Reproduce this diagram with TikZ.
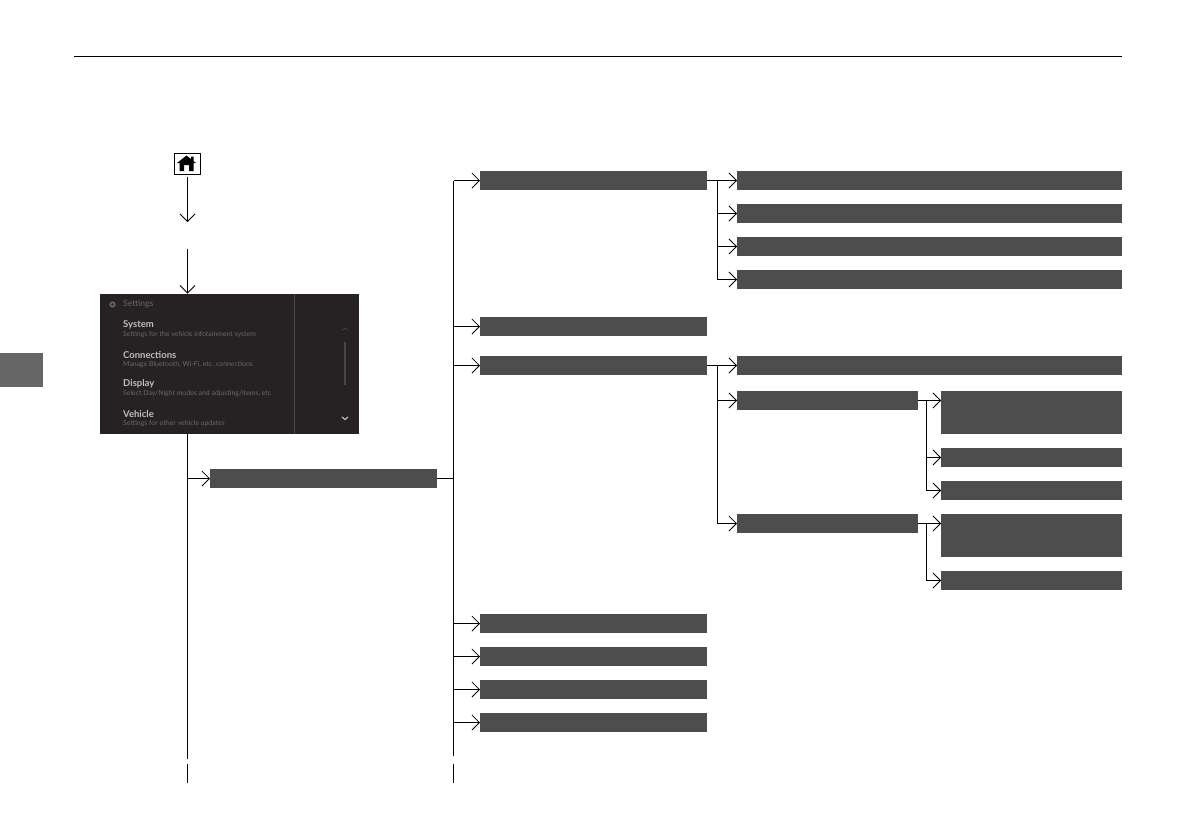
\documentclass[tikz,border=0pt]{standalone}
\usepackage{xcolor}
\usepackage{fontspec}
\setsansfont{Lato}
\definecolor{barfill}{RGB}{77, 77, 77}
\definecolor{tabfill}{RGB}{102, 102, 102}
\definecolor{screenfill}{RGB}{38, 34, 36}
\definecolor{screenline}{RGB}{72, 70, 71}
\definecolor{screentitle}{RGB}{190, 190, 190}
\definecolor{screensub}{RGB}{105, 103, 104}
\usetikzlibrary{arrows.meta, calc}
\tikzset{
    barbox/.style={fill=barfill, anchor=north west, inner sep=0pt, outer sep=0pt, minimum height=19pt},
    barmain/.style={barbox, minimum width=227pt},
    barlong/.style={barbox, minimum width=385pt},
    barshort/.style={barbox, minimum width=181pt},
    bartall/.style={barshort, minimum height=43pt},
    flowline/.style={line width=1pt, -{Straight Barb[length=7.5pt,width=15pt,line width=0.8pt]}},
    plainline/.style={line width=1pt},
    screentext/.style={anchor=west, inner sep=0pt, font=\sffamily\bfseries\fontsize{9.5}{10}\selectfont, text=screentitle},
    screennote/.style={anchor=west, inner sep=0pt, font=\sffamily\fontsize{6.9}{7}\selectfont, text=screensub}
}
\begin{document}
\begin{tikzpicture}[x=1pt, y=-1pt]
    \useasboundingbox (0,0) rectangle (1191,839);

    % Page furniture
    \fill[tabfill] (0,353) rectangle (42.5,387);
    \draw[line width=1pt] (74,56) -- (1122,56);

    % Home button
    \node[draw, line width=1pt, minimum width=26pt, minimum height=21pt, inner sep=0pt, anchor=north west] (home) at (174,153) {};
    \fill (177,163) -- (186.5,155.5) -- (191,159) -- (191,156.5) -- (193.5,156.5) -- (193.5,161) -- (196,163) -- (193.5,163)
        -- (193.5,171) -- (189,171) -- (189,165) -- (184,165) -- (184,171) -- (179.5,171) -- (179.5,163) -- cycle;

    % Screen
    \node[fill=screenfill, anchor=north west, inner sep=0pt, outer sep=0pt, minimum width=259pt, minimum height=140.5pt] (screen) at (100,293.5) {};
    \draw[screenline] (294,293.5) -- (294,433.5);
    \draw[screensub, line width=1.6pt] (112.5,304.5) circle (2.2pt);
    \node[screennote, font=\sffamily\fontsize{8.6}{9}\selectfont] (settings) at (123,304.5) {Settings};
    \foreach \y/\title/\note in {325/System/Settings for the vehicle infotainment system,
        354.5/Connections/{Manage Bluetooth, Wi-Fi, etc. connections},
        384/Display/{Select Day/Night modes and adjusting/items, etc},
        413.5/Vehicle/Settings for other vehicle updates} {
        \node[screentext] at (123,\y) {\title};
        \node[screennote] at (123,\y+10) {\note};
    }
    % Scroll bar
    \draw[screenline, line width=1.4pt] (345,342) -- (345,385);
    \draw[screenline, line width=0.8pt] (342,330) -- (345,328.5) -- (348,330);
    \draw[screentitle, line width=1.2pt] (342,417) -- (345,419.5) -- (348,417);

    % Main column
    \node[barmain] (mid) at (210,469) {};
    \node[barmain] (sound) at (480,171) {};
    \node[barmain] (clock) at (480,317) {};
    \node[barmain] (devices) at (480,356) {};
    \node[barmain] (rowa) at (480,614) {};
    \node[barmain] (rowb) at (480,647) {};
    \node[barmain] (rowc) at (480,680) {};
    \node[barmain] (rowd) at (480,713) {};

    % Top group
    \node[barlong] (topa) at (737,171) {};
    \node[barlong] (topb) at (737,204) {};
    \node[barlong] (topc) at (737,237) {};
    \node[barlong] (topd) at (737,270) {};

    % Lower group
    \node[barlong] (lowa) at (737,356) {};
    \node[barshort] (lowb) at (737,391) {};
    \node[barshort] (lowc) at (737,514) {};
    \node[bartall] (suba) at (941,391) {};
    \node[barshort] (subb) at (941,448) {};
    \node[barshort] (subc) at (941,481) {};
    \node[bartall] (subd) at (941,514) {};
    \node[barshort] (sube) at (941,571) {};

    % Left trunk
    \coordinate (homefoot) at (187.5,177);
    \coordinate (homehead) at (187.5,222);
    \coordinate (gaptop) at (187.5,249);
    \coordinate (trunkend) at (187.5,758.5);
    \coordinate (tickatop) at (187.5,764);
    \coordinate (tickaend) at (187.5,783);
    \draw[flowline] (homefoot) -- (homehead);
    \draw[flowline] (gaptop) -- (gaptop |- screen.north);
    \draw[plainline] (screen.south -| trunkend) -- (trunkend);
    \draw[plainline] (tickatop) -- (tickaend);
    \draw[flowline] (mid.west -| trunkend) -- (mid.west);

    % Second trunk
    \coordinate (trunktop) at (453.5,180.5);
    \coordinate (trunkbot) at (453.5,755.5);
    \coordinate (tickbtop) at (453.5,764);
    \coordinate (tickbend) at (453.5,783);
    \draw[plainline] (mid.east) -- (mid.east -| trunktop);
    \draw[plainline] (trunktop) -- (trunkbot);
    \draw[plainline] (tickbtop) -- (tickbend);
    \foreach \n in {sound,clock,devices,rowa,rowb,rowc,rowd} {
        \draw[flowline] (\n.west -| trunktop) -- (\n.west);
    }

    % Branches to the right
    \coordinate (forka) at (717.5,180.5);
    \coordinate (forkb) at (717.5,365.5);
    \coordinate (forkc) at (926.5,400.5);
    \coordinate (forkd) at (926.5,523.5);
    \draw[flowline] (sound.east) -- (topa.west);
    \foreach \n in {topb,topc,topd} {
        \draw[flowline] (forka) |- (\n.west);
    }
    \draw[flowline] (devices.east) -- (lowa.west);
    \foreach \n in {lowb,lowc} {
        \draw[flowline] (forkb) |- (\n.west);
    }
    \draw[flowline] (lowb.east) -- (lowb.east -| suba.west);
    \foreach \n in {subb,subc} {
        \draw[flowline] (forkc) |- (\n.west);
    }
    \draw[flowline] (lowc.east) -- (lowc.east -| subd.west);
    \draw[flowline] (forkd) |- (sube.west);
\end{tikzpicture}
\end{document}
